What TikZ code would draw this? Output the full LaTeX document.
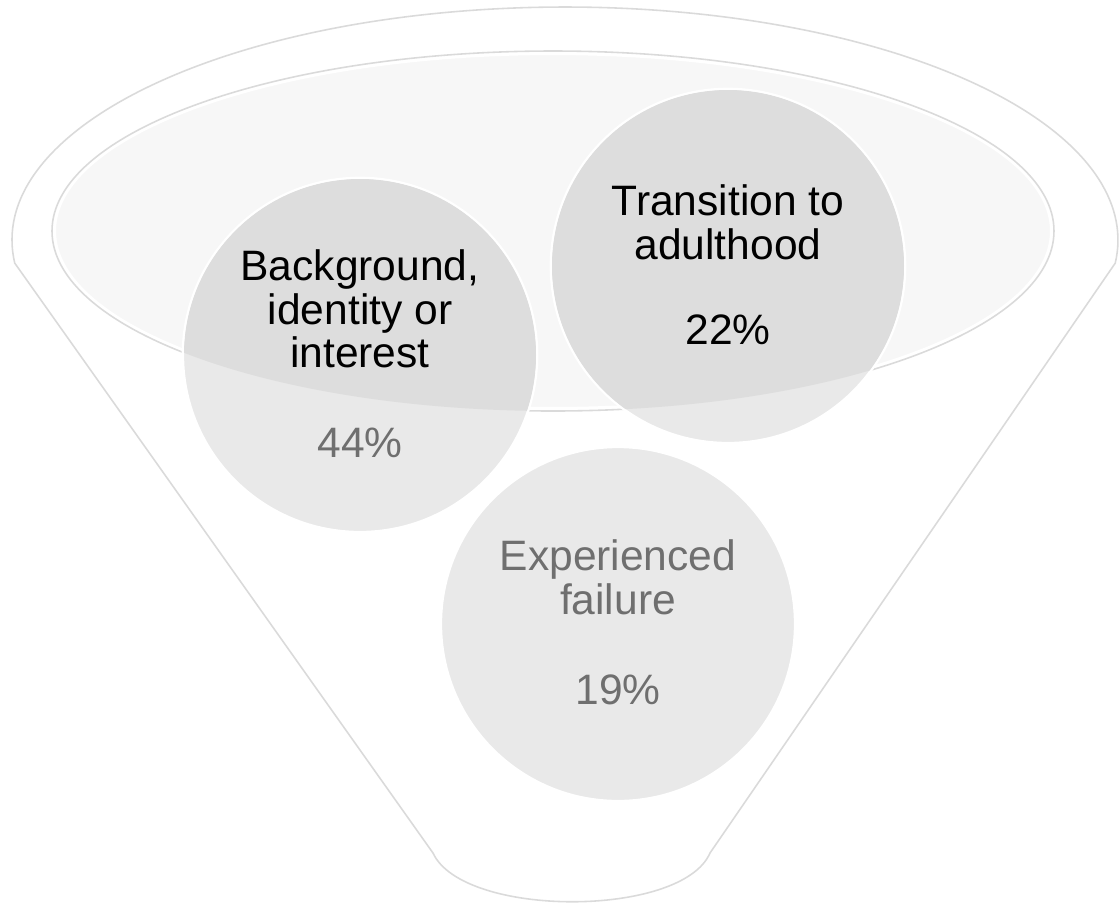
\documentclass[tikz,border=0pt]{standalone}
\usepackage{fontspec}
\setmainfont{Liberation Sans}
\definecolor{rimgray}{HTML}{DADADA}
\definecolor{ellfill}{HTML}{F7F7F7}
\definecolor{bubblefill}{HTML}{E9E9E9}
\definecolor{bubbledark}{HTML}{DDDDDD}
\definecolor{fadegray}{HTML}{6F6F6F}
\begin{document}
\begin{tikzpicture}[x=0.01cm, y=-0.01cm, font=\fontsize{12.1}{12.4}\selectfont,
          rim/.style={draw=rimgray, line width=0.45pt},
          bubble/.style={circle, fill=bubblefill, draw=white, line width=0.7pt, minimum size=3.54cm, inner sep=0pt},
          lbl/.style={align=center, text=black},
          lblfade/.style={align=center, text=fadegray}]
        \useasboundingbox (0,0) rectangle (1120,905);
        % funnel outline
        \draw[rim, line join=round] (565,240) ++(174.3:553 and 233) arc[start angle=174.3, end angle=365.7, x radius=553, y radius=233]
          -- (710,853) .. controls (682,918) and (463,918) .. (433,853) -- cycle;
        % mouth of the funnel
        \draw[rim] (553,231) ellipse [x radius=501, y radius=180];
        \filldraw[fill=ellfill, draw=white, line width=0.6pt] (553,231) ellipse [x radius=498, y radius=177];
        % bubbles
        \node[bubble] (bg) at (360,355) {};
        \node[bubble] (adult) at (728,266) {};
        \node[bubble] (fail) at (618,624) {};
        \begin{scope}
          \clip (553,231) ellipse [x radius=501, y radius=180];
          \fill[bubbledark] (bg.center) circle[radius=176];
          \fill[bubbledark] (adult.center) circle[radius=176];
        \end{scope}
        % labels
        \node[lbl] (bgtext) at (360,309) {Background,\\identity or\\interest};
        \node[lblfade] (bgpct) at (360,443) {44\%};
        \node[lbl] (adulttext) at (728,222) {Transition to\\adulthood};
        \node[lbl] (adultpct) at (728,330) {22\%};
        \node[lblfade] (failtext) at (618,577) {Experienced\\failure};
        \node[lblfade] (failpct) at (618,690) {19\%};
      \end{tikzpicture}
\end{document}
